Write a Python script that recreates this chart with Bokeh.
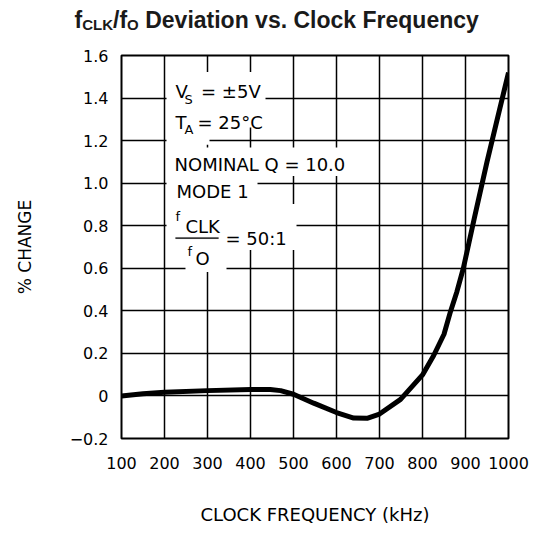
from bokeh.plotting import figure
from bokeh.layouts import column, row
from bokeh.models import Label, BoxAnnotation, FixedTicker, Range1d
from bokeh.core.properties import value
from bokeh.embed import file_html
from bokeh.resources import INLINE

# ---- data ----
freq_khz = [100, 150, 200, 300, 400, 446, 470, 500, 547, 600, 640, 671, 700,
            749, 800, 826, 850, 865, 880, 895, 921, 950, 975, 1000]
pct_change = [0.0, 0.01, 0.017, 0.025, 0.03, 0.03, 0.025, 0.008, -0.034, -0.078,
              -0.104, -0.105, -0.085, -0.016, 0.099, 0.19, 0.29, 0.396, 0.49,
              0.6, 0.84, 1.1, 1.31, 1.52]
x_ticks = [100, 200, 300, 400, 500, 600, 700, 800, 900, 1000]
y_ticks = [-0.2, 0, 0.2, 0.4, 0.6, 0.8, 1.0, 1.2, 1.4, 1.6]
y_tick_labels = ["\u22120.2", "0", "0.2", "0.4", "0.6", "0.8", "1.0", "1.2", "1.4", "1.6"]
title_parts = ["f", "CLK", "/f", "O", "Deviation vs. Clock Frequency"]

FONT = "DejaVu Sans"
TFONT = "Liberation Sans"

# ---- title strip (own small svg figure so the sub-scripts stay real text) ----
t = figure(width=530, height=45, output_backend="svg", toolbar_location=None,
           x_range=Range1d(0, 530), y_range=Range1d(0, 45),
           x_axis_location=None, y_axis_location=None,
           min_border=0, outline_line_color=None)
t.grid.visible = False
t.background_fill_color = "white"
t.border_fill_color = "white"
t_x = [74, 81.7, 112.5, 126.6, 144.7]
t_y = [26, 21, 26, 21, 26]
t_size = ["23px", "15px", "23px", "15px", "23px"]
for tx, ty, ts, tt in zip(t_x, t_y, t_size, title_parts):
    t.text(x=[tx], y=[ty], text=[tt], text_font=value(TFONT), text_font_size=ts,
           text_font_style="bold", text_color="#1a1a1a", text_align="left",
           text_baseline="alphabetic")

# ---- main chart ----
p = figure(width=530, height=488, output_backend="svg", toolbar_location=None,
           x_range=Range1d(100, 1000), y_range=Range1d(-0.2, 1.6),
           min_border_left=121, min_border_right=22, min_border_top=10,
           min_border_bottom=95)
p.background_fill_color = "white"
p.border_fill_color = "white"
p.outline_line_color = "black"
p.outline_line_width = 2

p.xaxis.ticker = FixedTicker(ticks=x_ticks)
p.yaxis.ticker = FixedTicker(ticks=y_ticks)
overrides = {v: s for v, s in zip(y_ticks, y_tick_labels)}
overrides[1] = "1.0"
p.yaxis.major_label_overrides = overrides

for ax in (p.xaxis[0], p.yaxis[0]):
    ax.axis_line_color = None
    ax.major_tick_line_color = None
    ax.minor_tick_line_color = None
    ax.major_tick_out = 0
    ax.major_tick_in = 0
    ax.major_label_text_font = FONT
    ax.major_label_text_font_size = "16px"
    ax.major_label_text_color = "black"
    ax.axis_label_text_font = FONT
    ax.axis_label_text_font_style = "normal"
    ax.axis_label_text_color = "black"

p.xaxis.major_label_standoff = 18
p.yaxis.major_label_standoff = 13
p.xaxis.axis_label = "CLOCK FREQUENCY (kHz)"
p.xaxis.axis_label_text_font_size = "18px"
p.xaxis.axis_label_standoff = 32
p.yaxis.axis_label = "% CHANGE"
p.yaxis.axis_label_text_font_size = "17px"
p.yaxis.axis_label_standoff = 32

p.xgrid[0].ticker = FixedTicker(ticks=x_ticks)
p.ygrid[0].ticker = FixedTicker(ticks=y_ticks)
for g in (p.xgrid[0], p.ygrid[0]):
    g.grid_line_color = "black"
    g.grid_line_width = 1.5
    g.grid_line_alpha = 1.0

p.line(freq_khz, pct_change, line_color="black", line_width=5, line_join="round")

# white masks behind the condition block (grid is erased there in the original)
masks = [(204.7, 434.9, 1.344, 1.523), (204.7, 304.7, 1.180, 1.344),
         (304.7, 446.5, 1.262, 1.344), (204.7, 637.2, 1.034, 1.168),
         (204.7, 416.3, 0.902, 1.034), (204.7, 507.0, 0.686, 0.902),
         (248.8, 344.2, 0.583, 0.686)]
for l, r, b, tp in masks:
    p.add_layout(BoxAnnotation(left=l, right=r, bottom=b, top=tp,
                               fill_color="white", fill_alpha=1.0,
                               line_color=None))


def lab(x, y, text, size="18px"):
    p.add_layout(Label(x=x, y=y, text=text, text_font=FONT, text_font_size=size,
                       text_color="black", text_align="left",
                       text_baseline="alphabetic"))


# in-plot annotation block
lab(225.6, 1.433, "V")
lab(246.5, 1.391, "S", "13px")
lab(285.0, 1.433, "= \u00b15V")
lab(225.6, 1.283, "T")
lab(246.5, 1.250, "A", "13px")
lab(276.7, 1.283, "= 25\u00b0C")
lab(223.3, 1.090, "NOMINAL  Q = 10.0")
lab(227.9, 0.963, "MODE  1")
lab(225.6, 0.841, "f", "13px")
lab(248.8, 0.796, "CLK")
lab(341.9, 0.738, "= 50:1")
lab(253.5, 0.681, "f", "13px")
lab(272.1, 0.644, "O")
p.add_layout(BoxAnnotation(left=225.6, right=325.6, bottom=0.739, top=0.745,
                           fill_color="black", fill_alpha=1.0,
                           line_color="black", line_width=0.5))

layout = column(row(t), p, spacing=0)
open("out.html", "w").write(file_html(layout, INLINE))
